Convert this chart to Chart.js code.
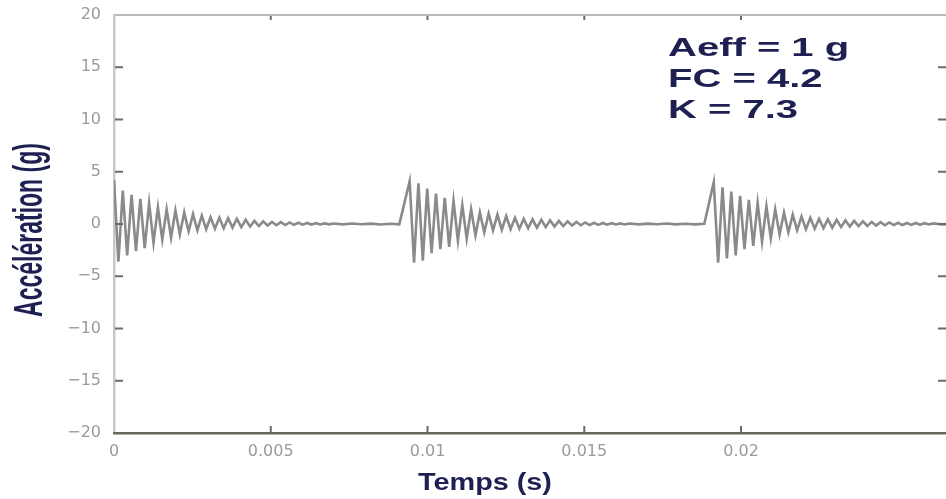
<!DOCTYPE html>
<html><head><meta charset="utf-8">
<script src="https://cdn.jsdelivr.net/npm/chart.js@4/dist/chart.umd.min.js"></script>
<style>
html,body{margin:0;padding:0;overflow:hidden;background:#fff;width:946px;height:499px}
#wrap{width:960px;height:499px;position:relative}
canvas{display:block}
</style></head><body><div id="wrap"><canvas id="c" width="960" height="499"></canvas></div>
<script>
// ---- data ----
const xTicks = [0, 0.005, 0.01, 0.015, 0.02];
const xTickLabels = ['0', '0.005', '0.01', '0.015', '0.02'];
const yTicks = [-20, -15, -10, -5, 0, 5, 10, 15, 20];
const yTickLabels = ['\u221220', '\u221215', '\u221210', '\u22125', '0', '5', '10', '15', '20'];
const xRange = [0, 0.02657];
const yRange = [-20, 20];

const burstStarts = [0, 0.00943, 0.01913];   // s
const burstStep = 0.00014;                   // s between successive peaks
const burst1 = [4.2, -3.6, 3.2, -3.0, 2.8, -2.6, 2.4, -2.3, 2.0, -1.8, 1.6, -1.5, 1.4, -1.3, 1.3, -1.0,
  1.1, -0.7, 0.95, -0.6, 0.8, -0.5, 0.65, -0.45, 0.6, -0.4, 0.55, -0.35, 0.5, -0.3, 0.4, -0.25, 0.3, -0.2,
  0.25, -0.15, 0.2, -0.12, 0.18, -0.1, 0.15, -0.08, 0.12, -0.06, 0.1, -0.05, 0.08, -0.04, 0.06, -0.03, 0.05];
const burst2 = [4.1, -3.7, 3.9, -3.5, 3.4, -2.8, 2.9, -2.4, 2.5, -2.2, 2.2, -1.6, 1.8, -1.4, 1.4, -1.1,
  1.1, -0.8, 1.0, -0.6, 0.9, -0.55, 0.75, -0.5, 0.6, -0.45, 0.5, -0.4, 0.45, -0.35, 0.4, -0.3, 0.35, -0.25,
  0.3, -0.2, 0.25, -0.15, 0.2, -0.12, 0.15, -0.1, 0.12, -0.08, 0.1, -0.06, 0.08, -0.05, 0.06, -0.04, 0.05];
const burst3 = [4.0, -3.7, 3.5, -3.3, 3.1, -3.0, 2.7, -2.4, 2.3, -2.1, 2.0, -1.7, 1.7, -1.35, 1.4, -1.0,
  1.1, -0.8, 0.9, -0.6, 0.7, -0.5, 0.6, -0.45, 0.5, -0.4, 0.45, -0.35, 0.4, -0.3, 0.35, -0.25, 0.3, -0.2,
  0.25, -0.18, 0.2, -0.15, 0.18, -0.12, 0.15, -0.1, 0.12, -0.1, 0.1, -0.08, 0.1, -0.06, 0.08, -0.05, 0.06];
const tailStep = 0.0003;
const tail1 = [-0.04, 0.05, -0.03, 0.04, -0.05, 0.03, -0.04];
const tail2 = [-0.04, 0.04, -0.03, 0.05, -0.04, 0.03, -0.04, 0.03];
const tail3 = [-0.04, 0.03];

const annotations = ['Aeff = 1 g', 'FC = 4.2', 'K = 7.3'];
const xTitle = 'Temps (s)';
const yTitle = 'Acc\u00e9l\u00e9ration (g)';

// ---- build points ----
const bursts = [burst1, burst2, burst3];
const tails = [tail1, tail2, tail3];
const points = [];
bursts.forEach((vals, b) => {
  const t0 = burstStarts[b];
  vals.forEach((v, i) => points.push({x: t0 + i * burstStep, y: v}));
  const tEnd = t0 + (vals.length - 1) * burstStep;
  tails[b].forEach((v, i) => points.push({x: tEnd + (i + 1) * tailStep, y: v}));
});

const NAVY = '#1e2052';
const TICK = '#6a6a6a';

const textPlugin = {
  id: 'texts',
  afterDatasetsDraw(chart) {
    // inner tick marks on all four sides
    const {ctx, chartArea: a, scales} = chart;
    ctx.save();
    ctx.strokeStyle = TICK; ctx.lineWidth = 2;
    yTicks.forEach(v => {
      if (v === yRange[0] || v === yRange[1]) return;
      const y = scales.y.getPixelForValue(v);
      ctx.beginPath(); ctx.moveTo(a.left + 1, y); ctx.lineTo(a.left + 9, y); ctx.stroke();
      ctx.beginPath(); ctx.moveTo(a.right - 1, y); ctx.lineTo(a.right - 9, y); ctx.stroke();
    });
    xTicks.forEach(v => {
      if (v === xRange[0]) return;
      const x = scales.x.getPixelForValue(v);
      ctx.beginPath(); ctx.moveTo(x, a.bottom - 1); ctx.lineTo(x, a.bottom - 7); ctx.stroke();
      ctx.beginPath(); ctx.moveTo(x, a.top + 1); ctx.lineTo(x, a.top + 5); ctx.stroke();
    });
    ctx.restore();
  },
  afterDraw(chart) {
    const {ctx, chartArea: a} = chart;
    ctx.save();
    ctx.fillStyle = NAVY;
    ctx.font = 'bold 25px "Liberation Sans"';
    ctx.textBaseline = 'alphabetic';
    ctx.textAlign = 'left';
    annotations.forEach((t, i) => {
      ctx.save();
      ctx.translate(a.left + 554, 56 + 31 * i);
      ctx.scale(1.6, 1);
      ctx.fillText(t, 0, 0);
      ctx.restore();
    });
    ctx.save();
    ctx.font = 'bold 24px "Liberation Sans"';
    ctx.textAlign = 'center';
    ctx.translate(a.left + 371, 490);
    ctx.scale(1.2, 1);
    ctx.fillText(xTitle, 0, 0);
    ctx.restore();
    ctx.save();
    ctx.font = 'bold 23px "Liberation Sans"';
    ctx.textAlign = 'center';
    ctx.translate(42, 230);
    ctx.scale(1.8, 1);
    ctx.rotate(-Math.PI / 2);
    ctx.fillText(yTitle, 0, 0);
    ctx.restore();
    ctx.restore();
  }
};

new Chart(document.getElementById('c'), {
  type: 'line',
  data: {
    datasets: [{
      data: points,
      borderColor: '#8a8a8a',
      borderWidth: 2.6,
      pointRadius: 0,
      tension: 0,
      fill: false
    }]
  },
  options: {
    responsive: false,
    animation: false,
    events: [],
    layout: {padding: {top: 15, right: 13, left: 0, bottom: 0}},
    plugins: {legend: {display: false}, tooltip: {enabled: false}},
    scales: {
      x: {
        type: 'linear', position: 'bottom', min: xRange[0], max: xRange[1],
        afterBuildTicks: s => { s.ticks = xTicks.map(v => ({value: v})); },
        afterFit: s => { s.height = 66; },
        grid: {display: false},
        border: {display: true, color: '#6b665c', width: 2.5, z: 1},
        ticks: {
          autoSkip: false, maxRotation: 0, minRotation: 0, padding: 1,
          color: '#9a9a9a', font: {family: 'DejaVu Sans', size: 16},
          callback: (v, i) => xTickLabels[i]
        }
      },
      xTop: {
        type: 'linear', position: 'top', min: xRange[0], max: xRange[1],
        afterFit: s => { s.height = 0; },
        grid: {display: false},
        border: {display: true, color: '#b9b9b9', width: 2},
        ticks: {display: false}
      },
      y: {
        type: 'linear', position: 'left', min: yRange[0], max: yRange[1],
        afterBuildTicks: s => { s.ticks = yTicks.map(v => ({value: v})); },
        afterFit: s => { s.width = 114; },
        grid: {display: true, drawOnChartArea: false, drawTicks: true, tickLength: 13, tickColor: 'rgba(0,0,0,0)'},
        border: {display: true, color: '#c8c8c8', width: 2.5},
        ticks: {
          padding: 0,
          color: '#9a9a9a', font: {family: 'DejaVu Sans', size: 16},
          callback: (v, i) => yTickLabels[i]
        }
      },
      yRight: {
        type: 'linear', position: 'right', min: yRange[0], max: yRange[1],
        afterFit: s => { s.width = 0; },
        grid: {display: false},
        border: {display: true, color: '#c4c4c4', width: 2},
        ticks: {display: false}
      }
    }
  },
  plugins: [textPlugin]
});
</script></body></html>
